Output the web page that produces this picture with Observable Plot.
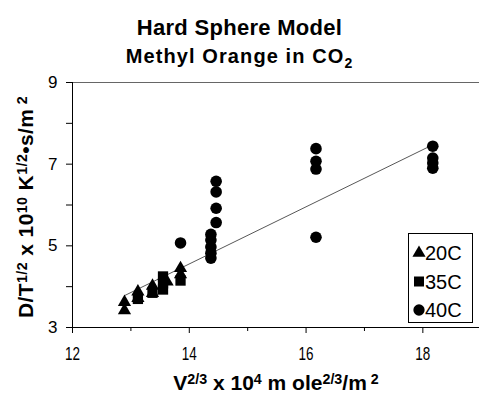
<!DOCTYPE html>
<html><head><meta charset="utf-8">
<script src="https://cdn.jsdelivr.net/npm/d3@7"></script>
<script src="https://cdn.jsdelivr.net/npm/@observablehq/plot@0.6"></script>
<style>
body{margin:0;background:#fff;font-family:"Liberation Sans",Arial,sans-serif;color:#000}
#wrap{width:479px;height:393px;overflow:hidden;position:relative}
#head{height:70px;text-align:center;font-weight:bold}
#t1{padding-top:16px;height:24px;line-height:24px;font-size:22px;letter-spacing:0.3px}
#t2{height:30px;line-height:32px;font-size:20px;letter-spacing:1.1px}
#t2 sub{font-size:14px;vertical-align:-5px;line-height:0}
svg{display:block}
</style></head>
<body><div id="wrap"><div id="head"><div id="t1"></div><div id="t2"></div></div><div id="chart"></div></div>
<script>
const titleText = "Hard Sphere Model";
const subtitleMain = "Methyl Orange in CO";
const subtitleSub = "2";
const seriesNames = ["20C", "35C", "40C"];

// 20C (triangles)
const x20 = [12.89, 12.89, 13.12, 13.12, 13.37, 13.37, 13.62, 13.85, 13.85];
const y20 = [3.62, 3.42, 3.88, 3.72, 4.02, 3.84, 4.12, 4.45, 4.30];
// 35C (squares)
const x35 = [13.12, 13.37, 13.55, 13.55, 13.55, 13.85];
const y35 = [3.70, 3.85, 4.25, 4.08, 3.93, 4.15];
// 40C (circles)
const x40 = [13.85, 14.37, 14.37, 14.37, 14.37, 14.37, 14.46, 14.46, 14.46, 14.46, 16.17, 16.17, 16.17, 16.17, 18.17, 18.17, 18.17, 18.17];
const y40 = [5.07, 5.28, 5.14, 4.97, 4.82, 4.70, 6.58, 6.32, 5.92, 5.57, 7.38, 7.07, 6.88, 5.21, 7.44, 7.15, 7.03, 6.90];
// regression line end points
const fitX = [12.89, 18.15];
const fitY = [3.78, 7.46];

const xMajor = [12, 14, 16, 18];
const xMinor = [13, 15, 17];
const yMajor = [3, 5, 7, 9];
const yMinor = [4, 6, 8];

document.getElementById("t1").textContent = titleText;
const t2 = document.getElementById("t2");
t2.append(subtitleMain);
const sb = document.createElement("sub"); sb.textContent = subtitleSub; t2.append(sb);

const rows = (xs, ys) => xs.map((x, i) => ({x, y: ys[i]}));
const fit = rows(fitX, fitY);

const plot = Plot.plot({
  width: 479, height: 323,
  marginTop: 12, marginBottom: 66, marginLeft: 72, marginRight: 0,
  style: {fontFamily: "'Liberation Sans', Arial, sans-serif", fontSize: "15px", color: "#000", background: "#fff", overflow: "visible"},
  x: {domain: [12, 18.97], label: null},
  y: {domain: [3, 9], label: null},
  marks: [
    Plot.ruleY([9], {stroke: "#666", strokeWidth: 1.2}),
    Plot.axisX({ticks: xMajor, tickSize: 6, tickPadding: 13, tickFormat: d => String(d), fontSize: 19}),
    Plot.axisX({ticks: xMinor, tickSize: 4, tickFormat: () => ""}),
    Plot.axisY({ticks: yMajor, tickSize: 6, tickPadding: 9, tickFormat: d => String(d), fontSize: 17}),
    Plot.axisY({ticks: yMinor, tickSize: 6, tickFormat: () => ""}),
    Plot.ruleX([12], {stroke: "#000"}),
    Plot.ruleY([3], {stroke: "#000"}),
    Plot.line(fit, {x: "x", y: "y", stroke: "#444", strokeWidth: 0.9}),
    Plot.dot(rows(x40, y40), {x: "x", y: "y", symbol: "circle", r: 5.8, fill: "#000"}),
    Plot.dot(rows(x35, y35), {x: "x", y: "y", symbol: "square", r: 5.8, fill: "#000"}),
    Plot.dot(rows(x20, y20), {x: "x", y: "y", symbol: "triangle", r: 4.9, fill: "#000"})
  ]
});
document.getElementById("chart").append(plot);

const svg = d3.select(plot);
svg.selectAll('[aria-label="x-axis tick label"] text')
  .attr("textLength", 15).attr("lengthAdjust", "spacingAndGlyphs");

// x axis label
const font = "'Liberation Sans', Arial, sans-serif";
const xl = svg.append("text").attr("x", 276).attr("y", 320).attr("text-anchor", "middle")
  .attr("font-weight", "bold").attr("font-size", 21).attr("fill", "#000").attr("font-family", font);
const addParts = (sel, parts) => parts.forEach(([t, sup]) => {
  const ts = sel.append("tspan").text(t);
  if (sup) ts.attr("font-size", "0.68em").attr("baseline-shift", "45%");
});
addParts(xl, [["V"], ["2/3", 1], [" x 10"], ["4", 1], [" m ole"], ["2/3", 1], ["/m"], [" 2", 1]]);

// y axis label
const yl = svg.append("text").attr("transform", "translate(33,137) rotate(-90)").attr("text-anchor", "middle")
  .attr("font-weight", "bold").attr("font-size", 21).attr("fill", "#000").attr("font-family", font)
  .attr("letter-spacing", "0.4px");
addParts(yl, [["D/T"], ["1/2", 1], [" x 10"], ["10", 1], [" K"], ["1/2", 1], ["\u2022s/m"], [" 2", 1]]);

// legend
const lg = svg.append("g").attr("font-family", font).attr("font-size", 20).attr("text-anchor", "start");
lg.append("rect").attr("x", 408.5).attr("y", 163.5).attr("width", 64).attr("height", 89)
  .attr("fill", "#fff").attr("stroke", "#000");
const syms = [d3.symbolTriangle, d3.symbolSquare, d3.symbolCircle];
const sizes = [75, 100, 100];
seriesNames.forEach((name, i) => {
  const cy = 183 + i * 28.5;
  lg.append("path").attr("d", d3.symbol(syms[i], sizes[i])()).attr("transform", `translate(419,${cy})`).attr("fill", "#000");
  lg.append("text").attr("x", 425).attr("y", cy).attr("dy", "0.36em").attr("text-anchor", "start").text(name);
});
</script></body></html>
